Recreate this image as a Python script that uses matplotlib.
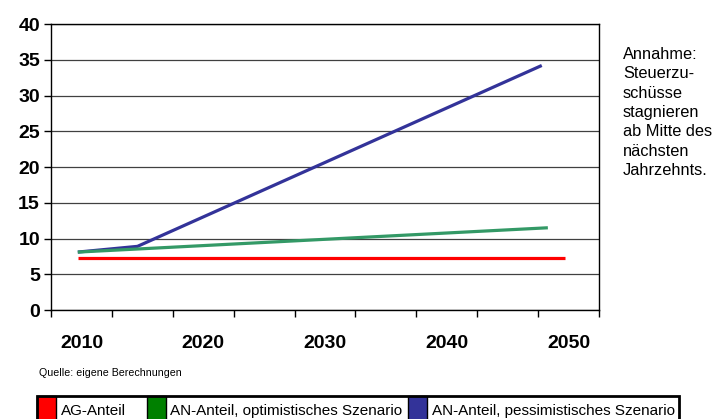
#!/usr/bin/env python3
import matplotlib.pyplot as plt
from matplotlib.patches import Rectangle

plt.rcParams['font.family'] = ['Liberation Sans', 'DejaVu Sans']

# series values (x in years, y in %)
ag_x = [2009.7, 2049.7]
ag_y = [7.3, 7.3]
opt_x = [2009.7, 2048.3]
opt_y = [8.1, 11.5]
pess_x = [2009.7, 2014.6, 2047.8]
pess_y = [8.1, 8.9, 34.2]

year_labels = [2010, 2020, 2030, 2040, 2050]
y_ticks = [0, 5, 10, 15, 20, 25, 30, 35, 40]
series_names = ['AG-Anteil', 'AN-Anteil, optimistisches Szenario',
                'AN-Anteil, pessimistisches Szenario']
colors = ['#ff0000', '#339966', '#333399']
legend_colors = ['#ff0000', '#008000', '#333399']
note = 'Annahme:\nSteuerzu-\nschüsse\nstagnieren\nab Mitte des\nnächsten\nJahrzehnts.'
source = 'Quelle: eigene Berechnungen'

W, H = 720, 419
fig = plt.figure(figsize=(7.2, 4.19), dpi=100)
ax = fig.add_axes([51/W, 1 - 310/H, 548/W, 286/H])

ax.plot(ag_x, ag_y, color=colors[0], lw=2.3, solid_capstyle='butt', zorder=3)
ax.plot(pess_x, pess_y, color=colors[2], lw=2.3, solid_capstyle='butt', zorder=3)
ax.plot(opt_x, opt_y, color=colors[1], lw=2.3, solid_capstyle='butt', zorder=4)

ax.set_xlim(2007.5, 2052.5)
ax.set_ylim(0, 40)
ax.set_yticks(y_ticks)
ax.set_yticklabels([str(v) for v in y_ticks], fontsize=14, fontweight='bold')
ax.set_xticks([2007.5 + 5 * i for i in range(10)])
ax.set_xticklabels([])
ax.set_xticks(year_labels, minor=True)
ax.set_xticklabels([str(y) for y in year_labels], minor=True,
                   fontsize=14, fontweight='bold')
ax.tick_params(axis='x', which='minor', length=0, pad=18)
ax.tick_params(axis='both', which='major', length=5, width=1, direction='out')
ax.tick_params(axis='y', pad=3)
ax.grid(axis='y', color='#404040', lw=0.9)
ax.set_axisbelow(True)
for s in ['top', 'right', 'left', 'bottom']:
    ax.spines[s].set_color('black')
    ax.spines[s].set_linewidth(1)

fig.text(623/W, 1 - 47/H, note, fontsize=11.8, va='top', ha='left',
         linespacing=1.36)
fig.text(39/W, 1 - 373/H, source, fontsize=7.7, va='center', ha='left')

# hand-built legend box (clipped at the bottom of the image like the original)
box_left, box_right, box_top, box_bottom = 37, 679, 396, 430
patch_x = [37, 146.5, 408]
patch_w = 19


def fx(px):
    return px / W


def fy(py):
    return 1 - py / H


for x0, c, name in zip(patch_x, legend_colors, series_names):
    fig.patches.append(Rectangle((fx(x0), fy(box_bottom)), patch_w / W,
                                 (box_bottom - box_top) / H,
                                 transform=fig.transFigure, facecolor=c,
                                 edgecolor='black', lw=1))
    fig.text(fx(x0 + patch_w + 5), fy(411), name, fontsize=11,
             va='center', ha='left')
fig.patches.append(Rectangle((fx(box_left), fy(box_bottom)),
                             (box_right - box_left) / W,
                             (box_bottom - box_top) / H,
                             transform=fig.transFigure, facecolor='none',
                             edgecolor='black', lw=2))

fig.savefig('out.png', dpi=100)
